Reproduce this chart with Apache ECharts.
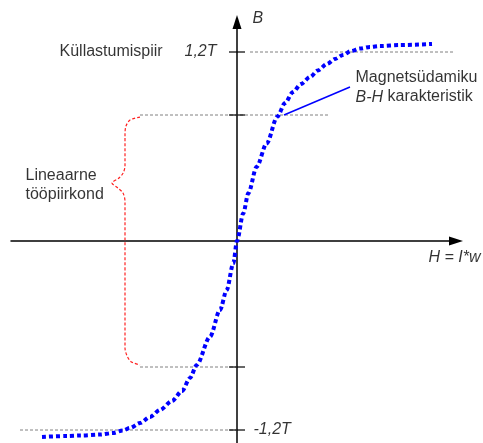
<!DOCTYPE html>
<html>
<head>
<meta charset="utf-8">
<script src="https://cdn.jsdelivr.net/npm/echarts@6/dist/echarts.min.js"></script>
<style>
html, body { margin: 0; padding: 0; background: #fff; }
#chart { width: 483px; height: 443px; }
</style>
</head>
<body>
<div id="chart"></div>
<script>
// B-H kõver (H suvalistes ühikutes, B teslades)
const curveH = [-19.5, -17.0, -15.7, -13.7, -12.4, -11.4, -10.7, -9.7, -8.7, -7.7, -6.5, -5.5, -4.7, -4.03,
  -2.7, -1.7, -1.03, -0.37, 0, 0.63, 1.13, 1.97, 2.97, 4.03, 4.8, 5.6, 6.4, 7.3, 8.1, 9.0, 9.8, 10.6,
  11.4, 12.3, 13.3, 14.3, 16.3, 19.5];
const curveB = [-1.244, -1.238, -1.235, -1.229, -1.219, -1.203, -1.187, -1.156, -1.117, -1.073, -1.016, -0.952, -0.87, -0.787,
  -0.608, -0.438, -0.311, -0.142, 0, 0.176, 0.303, 0.472, 0.62, 0.789, 0.876, 0.946, 0.997, 1.041, 1.083, 1.124, 1.156, 1.181,
  1.206, 1.222, 1.232, 1.238, 1.244, 1.251];

// telje jaotised
const tickB = [1.2, 0.8, -0.8, -1.2];

// hallid abijooned: [H algus, H lõpp, B]
const guideFrom = [1.3, -9.7, -9.7, -21.7];
const guideTo = [21.6, 9.1, 0, 0];
const guideB = [1.2, 0.8, -0.8, -1.2];

// punane looksulg
const braceH = [-9.7, -10.7, -11.1, -11.2, -11.2, -11.4, -11.8, -12.5, -11.9, -11.4, -11.2, -11.2, -11.0, -10.6, -9.7];
const braceB = [0.787, 0.768, 0.73, 0.68, 0.476, 0.43, 0.4, 0.368, 0.336, 0.305, 0.25, -0.68, -0.728, -0.766, -0.787];

// viidejoon
const pointerH = [4.7, 11.3];
const pointerB = [0.8, 0.978];

// tekstid
const noteText = ["Küllastumispiir", "{i|1,2T}", "{i|-1,2T}", "{i|B}", "Magnetsüdamiku",
  "{i|B-H} karakteristik", "Lineaarne", "tööpiirkond", "{i|H = I*w}"];
const noteH = [-17.8, -2.0, 1.6, 1.5, 11.8, 11.8, -21.2, -21.2, 24.4];
const noteB = [1.2, 1.2, -1.2, 1.41, 1.035, 0.914, 0.413, 0.292, -0.102];
const noteSide = ["right", "left", "right", "right", "right", "right", "right", "right", "left"];

const chart = echarts.init(document.getElementById("chart"));
const font = "'Liberation Sans', Arial, sans-serif";

const zip = (a, b) => a.map((v, i) => [v, b[i]]);

const guideSeries = guideB.map((b, i) => ({
  type: "line",
  data: [[guideFrom[i], b], [guideTo[i], b]],
  showSymbol: false,
  silent: true,
  z: 1,
  lineStyle: { color: "#808080", width: 1, type: [3, 2] }
}));

const option = {
  animation: false,
  backgroundColor: "#fff",
  grid: { left: 11, right: 27, top: 22, bottom: 0 },
  xAxis: {
    type: "value",
    min: -22.6,
    max: 21.9,
    axisLine: {
      onZero: true,
      symbol: ["none", "triangle"],
      symbolSize: [9, 14],
      lineStyle: { color: "#000", width: 1.5 }
    },
    axisTick: { show: false },
    axisLabel: { show: false },
    splitLine: { show: false }
  },
  yAxis: {
    type: "value",
    min: -1.2825,
    max: 1.3905,
    axisLine: {
      onZero: true,
      symbol: ["none", "triangle"],
      symbolSize: [9, 14],
      lineStyle: { color: "#000", width: 1.5 }
    },
    axisTick: { show: false },
    axisLabel: { show: false },
    splitLine: { show: false }
  },
  series: [
    ...guideSeries,
    {
      type: "line",
      data: zip(braceH, braceB),
      smooth: 0.3,
      showSymbol: false,
      z: 2,
      lineStyle: { color: "#ff2020", width: 1.2, type: [3, 2] }
    },
    {
      type: "line",
      data: zip(pointerH, pointerB),
      showSymbol: false,
      z: 3,
      lineStyle: { color: "#0000ff", width: 1.5 }
    },
    {
      type: "line",
      data: zip(curveH, curveB),
      smooth: 0.3,
      smoothMonotone: "x",
      showSymbol: false,
      z: 4,
      lineStyle: { color: "#0000ff", width: 4, type: [4, 3], cap: "butt" }
    },
    {
      // jaotised y-teljel
      type: "scatter",
      data: tickB.map(b => [0, b]),
      symbol: "rect",
      symbolSize: [16, 1.5],
      itemStyle: { color: "#000" },
      z: 5
    },
    {
      type: "scatter",
      clip: false,
      symbolSize: 1,
      itemStyle: { color: "rgba(0,0,0,0)" },
      z: 6,
      data: noteText.map((t, i) => ({
        value: [noteH[i], noteB[i]],
        label: {
          show: true,
          position: noteSide[i],
          distance: 0,
          formatter: t,
          color: "#000",
          fontSize: 16,
          fontFamily: font,
          rich: {
            i: { fontStyle: "italic", fontSize: 16, fontFamily: font, color: "#000" }
          }
        }
      }))
    }
  ]
};
chart.setOption(option);
</script>
</body>
</html>
